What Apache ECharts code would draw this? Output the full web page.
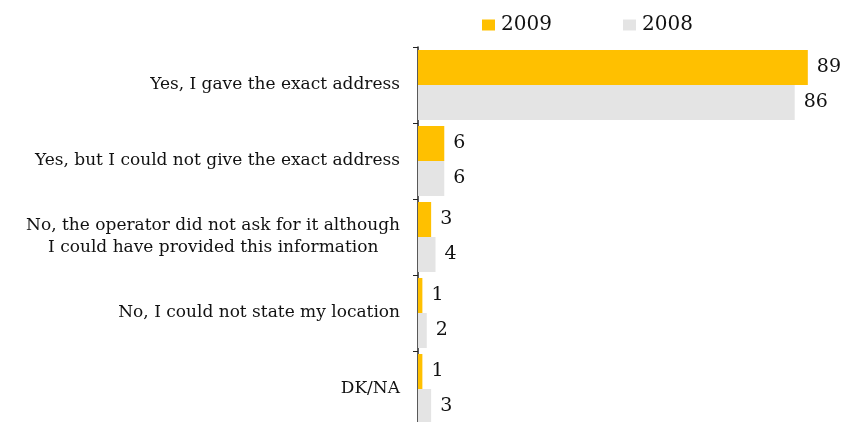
<!DOCTYPE html>
<html>
<head>
<meta charset="utf-8">
<script src="https://cdn.jsdelivr.net/npm/echarts@6/dist/echarts.min.js"></script>
<style>html,body{margin:0;padding:0;background:#fff}#c{width:842px;height:422px}</style>
</head>
<body>
<div id="c"></div>
<script>
const categories = [
  "Yes, I gave the exact address",
  "Yes, but I could not give the exact address",
  "No, the operator did not ask for it although\nI could have provided this information    ",
  "No, I could not state my location",
  "DK/NA"
];
const values2009 = [89, 6, 3, 1, 1];
const values2008 = [86, 6, 4, 2, 3];
const seriesNames = ["2009", "2008"];

const FONT = "DejaVu Serif";
const chart = echarts.init(document.getElementById('c'));
const labelStyle = {show: true, position: 'right', distance: 9, color: '#111', fontFamily: FONT, fontSize: 19};
chart.setOption({
  animation: false,
  legend: [
    {data: [seriesNames[0]], left: 482, top: 15, padding: 0, itemWidth: 13, itemHeight: 11, icon: 'rect',
     textStyle: {fontFamily: FONT, fontSize: 20, color: '#111', padding: [0, 0, 0, 1]}},
    {data: [seriesNames[1]], left: 623, top: 15, padding: 0, itemWidth: 13, itemHeight: 11, icon: 'rect',
     textStyle: {fontFamily: FONT, fontSize: 20, color: '#111', padding: [0, 0, 0, 1]}}
  ],
  grid: {left: 418, top: 47, width: 438, height: 380, containLabel: false, outerBoundsMode: 'none'},
  xAxis: {type: 'value', min: 0, max: 100, show: false},
  yAxis: {
    type: 'category', data: categories, inverse: true,
    axisLine: {show: true, lineStyle: {color: '#222', width: 1.5}},
    axisTick: {show: true, length: 5, lineStyle: {color: '#222'}},
    axisLabel: {margin: 18, color: '#111', fontFamily: FONT, fontSize: 17, align: 'right', lineHeight: 22}
  },
  series: [
    {name: seriesNames[0], type: 'bar', data: values2009, barWidth: 35, barGap: '0%',
     itemStyle: {color: '#FFC000'}, label: labelStyle},
    {name: seriesNames[1], type: 'bar', data: values2008, barWidth: 35,
     itemStyle: {color: '#E4E4E4'}, label: labelStyle}
  ]
});
</script>
</body>
</html>
